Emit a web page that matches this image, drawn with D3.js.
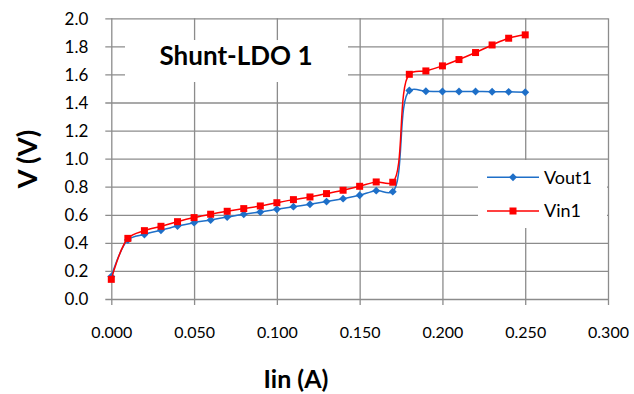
<!DOCTYPE html>
<html>
<head>
<meta charset="utf-8">
<script src="https://cdn.jsdelivr.net/npm/d3@7"></script>
<style>
  html, body { margin: 0; padding: 0; background: #fff; }
  svg { display: block; }
  text { font-family: "Lato", "Open Sans", sans-serif; fill: #000; }
</style>
</head>
<body>
<svg id="chart" width="634" height="394"></svg>
<script>
// Load current Iin (A)
const iin = [0.000, 0.010, 0.020, 0.030, 0.040, 0.050, 0.060, 0.070, 0.080, 0.090,
             0.100, 0.110, 0.120, 0.130, 0.140, 0.150, 0.160, 0.170, 0.180, 0.190,
             0.200, 0.210, 0.220, 0.230, 0.240, 0.250];
// Output voltage Vout1 (V)
const vout1 = [0.16, 0.42, 0.46, 0.49, 0.52, 0.544, 0.563, 0.584, 0.604, 0.620,
               0.639, 0.658, 0.675, 0.694, 0.715, 0.739, 0.772, 0.765, 1.485, 1.480,
               1.478, 1.478, 1.478, 1.477, 1.476, 1.473];
// Input voltage Vin1 (V)
const vin1 = [0.14, 0.432, 0.487, 0.518, 0.551, 0.580, 0.604, 0.625, 0.644, 0.663,
              0.686, 0.708, 0.727, 0.751, 0.775, 0.803, 0.834, 0.832, 1.601, 1.625,
              1.661, 1.706, 1.756, 1.810, 1.858, 1.882];
const xTicks = [0, 0.05, 0.10, 0.15, 0.20, 0.25, 0.30];
const yTicks = [0, 0.2, 0.4, 0.6, 0.8, 1.0, 1.2, 1.4, 1.6, 1.8, 2.0];
const seriesNames = ["Vout1", "Vin1"];
const chartTitle = "Shunt-LDO 1";

const svg = d3.select("#chart");
const plotL = 111.3, plotR = 608, plotT = 18.3, plotB = 299;

const x = d3.scaleLinear().domain([0, 0.3]).range([plotL, plotR]);
const y = d3.scaleLinear().domain([0, 2.0]).range([plotB, plotT]);

const gridColor = "#8c8c8c";

// Horizontal gridlines with left tick marks
const yAxis = d3.axisLeft(y).tickValues(yTicks).tickSize(-(plotR - plotL))
  .tickFormat(d3.format(".1f"));
const gy = svg.append("g").attr("transform", `translate(${plotL},0)`).call(yAxis);
gy.select(".domain").remove();
gy.selectAll(".tick line").attr("stroke", gridColor).attr("stroke-width", 1.3)
  .attr("x1", -6);
gy.selectAll(".tick text").attr("font-size", 17).attr("font-family", "Lato")
  .attr("x", -23).attr("dy", "0.35em").attr("fill", "#000");

// Vertical gridlines with bottom tick marks
const xAxis = d3.axisBottom(x).tickValues(xTicks).tickSize(-(plotB - plotT))
  .tickFormat(d3.format(".3f"));
const gx = svg.append("g").attr("transform", `translate(0,${plotB})`).call(xAxis);
gx.select(".domain").remove();
gx.selectAll(".tick line").attr("stroke", gridColor).attr("stroke-width", 1.3)
  .attr("y1", 6);
gx.selectAll(".tick text").attr("font-size", 16).attr("font-family", "Lato")
  .attr("y", 39).attr("dy", "0").attr("fill", "#000");

// Title box
svg.append("rect").attr("x", 125).attr("y", 40).attr("width", 223).attr("height", 42)
  .attr("fill", "#fff");
svg.append("text").attr("x", 236).attr("y", 65).attr("text-anchor", "middle")
  .attr("font-size", 26).attr("font-weight", "bold").text(chartTitle);

// Axis titles
svg.append("text").attr("x", 296).attr("y", 388).attr("text-anchor", "middle")
  .attr("font-size", 25).attr("font-weight", "bold").text("Iin (A)");
svg.append("text").attr("transform", "translate(37,159) rotate(-90)")
  .attr("text-anchor", "middle").attr("font-size", 27).attr("font-weight", "bold")
  .text("V (V)");

const blue = "#1e6fc8", red = "#ff0000";
const line = d3.line().curve(d3.curveCatmullRom.alpha(0.5));

const outPts = iin.map((d, i) => [x(d), y(vout1[i])]);
const inPts = iin.map((d, i) => [x(d), y(vin1[i])]);

svg.append("path").attr("d", line(outPts)).attr("fill", "none")
  .attr("stroke", blue).attr("stroke-width", 1.5);
svg.append("g").selectAll("path").data(outPts).join("path")
  .attr("transform", d => `translate(${d[0]},${d[1]})`)
  .attr("d", d3.symbol(d3.symbolDiamond2, 40)).attr("fill", blue);

svg.append("path").attr("d", line(inPts)).attr("fill", "none")
  .attr("stroke", red).attr("stroke-width", 1.5);
svg.append("g").selectAll("rect").data(inPts).join("rect")
  .attr("x", d => d[0] - 3.5).attr("y", d => d[1] - 3.5)
  .attr("width", 7).attr("height", 7).attr("fill", red);

// Legend
const lg = svg.append("g");
lg.append("rect").attr("x", 478).attr("y", 160).attr("width", 129).attr("height", 68)
  .attr("fill", "#fff");
const entries = [
  { name: seriesNames[0], color: blue, ly: 177.3, marker: "diamond" },
  { name: seriesNames[1], color: red, ly: 211, marker: "square" }
];
entries.forEach(e => {
  lg.append("line").attr("x1", 487).attr("x2", 539).attr("y1", e.ly).attr("y2", e.ly)
    .attr("stroke", e.color).attr("stroke-width", 1.5);
  if (e.marker === "diamond") {
    lg.append("path").attr("transform", `translate(513,${e.ly})`)
      .attr("d", d3.symbol(d3.symbolDiamond2, 40)).attr("fill", e.color);
  } else {
    lg.append("rect").attr("x", 509.5).attr("y", e.ly - 3.5).attr("width", 7)
      .attr("height", 7).attr("fill", e.color);
  }
  lg.append("text").attr("x", 544).attr("y", e.ly).attr("dy", "0.35em")
    .attr("font-size", 18).text(e.name);
});
</script>
</body>
</html>
